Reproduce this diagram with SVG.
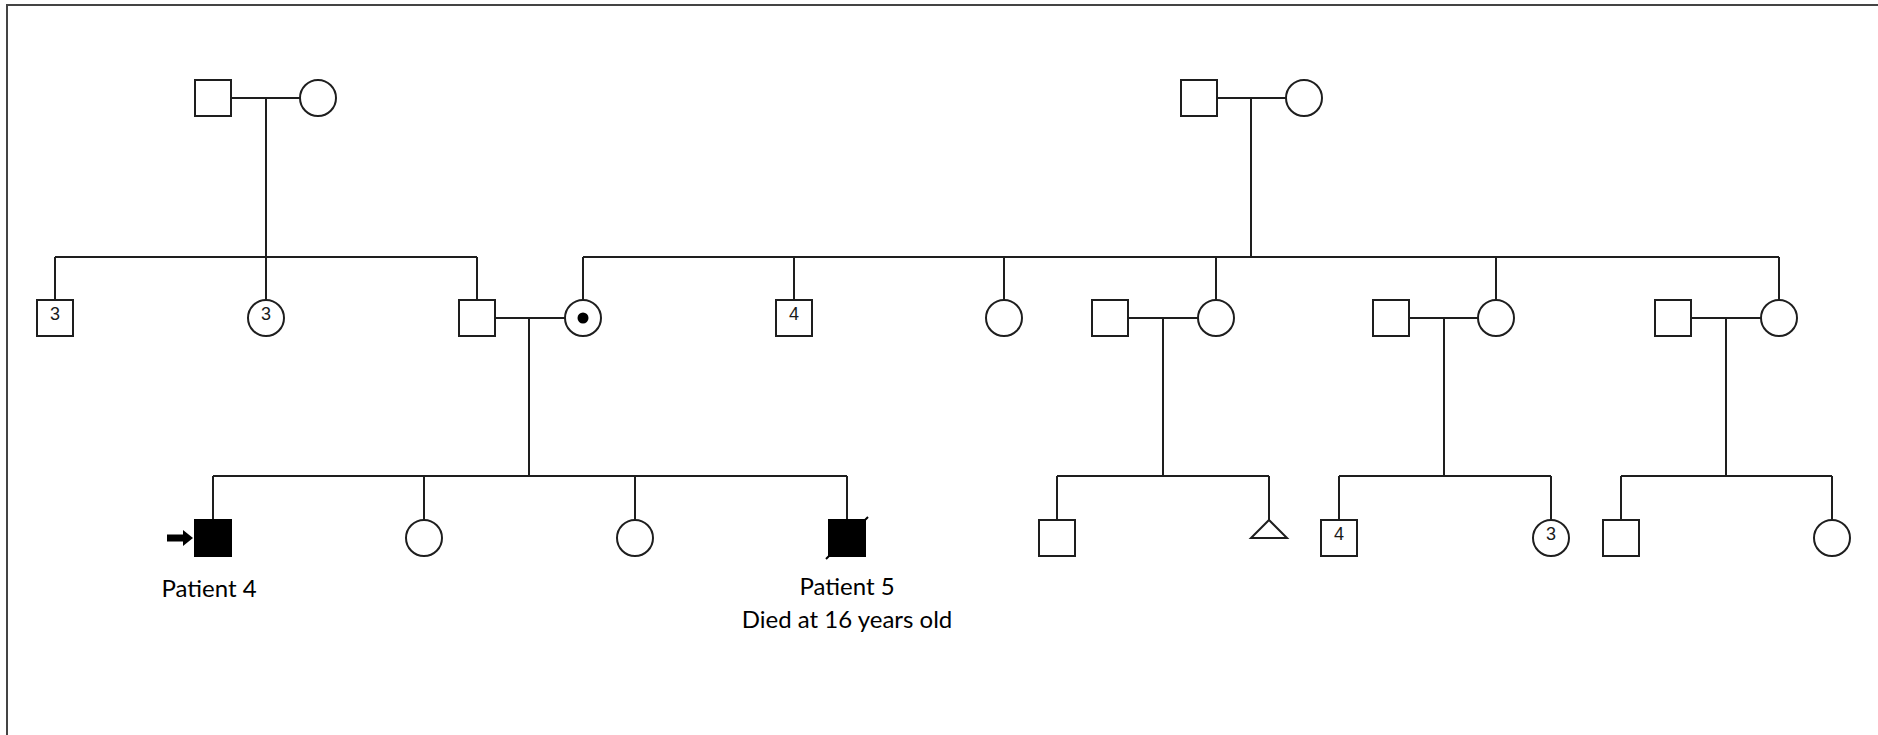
<svg xmlns="http://www.w3.org/2000/svg" width="1878" height="735" viewBox="0 0 1878 735">
  <style>
    .sym { fill: #fff; stroke: #1e1e1e; stroke-width: 2; }
    .aff { fill: #000; stroke: #000; stroke-width: 2; }
    .ln { fill: none; stroke: #1e1e1e; stroke-width: 2; }
    .num { font-family: "Liberation Sans", Arial, sans-serif; font-size: 18px; fill: #1a1a1a; text-anchor: middle; }
    .lbl { font-family: Lato, "Liberation Sans", sans-serif; font-size: 24px; fill: #000; text-anchor: middle; }
  </style>

  <!-- frame -->
  <path d="M7,735 V5 H1878" fill="none" stroke="#444" stroke-width="2"/>

  <!-- connectors: marriage, descent and sibship lines -->
  <g id="connectors" class="ln">
    <!-- generation I -->
    <path d="M231,98 H300 M266,98 V257 M55,257 H477 M55,257 V300 M266,257 V300 M477,257 V300"/>
    <path d="M1217,98 H1286 M1251,98 V257 M583,257 H1779 M583,257 V300 M794,257 V300 M1004,257 V300 M1216,257 V300 M1496,257 V300 M1779,257 V300"/>
    <!-- generation II couples -->
    <path d="M495,318 H565 M529,318 V476 M213,476 H847 M213,476 V520 M424,476 V520 M635,476 V520 M847,476 V520"/>
    <path d="M1128,318 H1198 M1163,318 V476 M1057,476 H1269 M1057,476 V520 M1269,476 V520"/>
    <path d="M1409,318 H1478 M1444,318 V476 M1339,476 H1551 M1339,476 V520 M1551,476 V520"/>
    <path d="M1691,318 H1761 M1726,318 V476 M1621,476 H1832 M1621,476 V520 M1832,476 V520"/>
  </g>

  <!-- generation I -->
  <g id="gp1-father"><rect class="sym" x="195" y="80" width="36" height="36"/></g>
  <g id="gp1-mother"><circle class="sym" cx="318" cy="98" r="18"/></g>
  <g id="gp2-father"><rect class="sym" x="1181" y="80" width="36" height="36"/></g>
  <g id="gp2-mother"><circle class="sym" cx="1304" cy="98" r="18"/></g>

  <!-- generation II -->
  <g id="brothers3"><rect class="sym" x="37" y="300" width="36" height="36"/><text class="num" x="55" y="320">3</text></g>
  <g id="sisters3"><circle class="sym" cx="266" cy="318" r="18"/><text class="num" x="266" y="320">3</text></g>
  <g id="father"><rect class="sym" x="459" y="300" width="36" height="36"/></g>
  <g id="mother-carrier"><circle class="sym" cx="583" cy="318" r="18"/><circle cx="583" cy="318" r="5.5" fill="#000"/></g>
  <g id="uncles4"><rect class="sym" x="776" y="300" width="36" height="36"/><text class="num" x="794" y="320">4</text></g>
  <g id="aunt1"><circle class="sym" cx="1004" cy="318" r="18"/></g>
  <g id="uncle-in-law1"><rect class="sym" x="1092" y="300" width="36" height="36"/></g>
  <g id="aunt2"><circle class="sym" cx="1216" cy="318" r="18"/></g>
  <g id="uncle-in-law2"><rect class="sym" x="1373" y="300" width="36" height="36"/></g>
  <g id="aunt3"><circle class="sym" cx="1496" cy="318" r="18"/></g>
  <g id="uncle-in-law3"><rect class="sym" x="1655" y="300" width="36" height="36"/></g>
  <g id="aunt4"><circle class="sym" cx="1779" cy="318" r="18"/></g>

  <!-- generation III -->
  <g id="patient4">
    <rect class="aff" x="195" y="520" width="36" height="36"/>
    <path d="M167,534.5 H183 V530 L193,538 L183,546 V541.5 H167 Z" fill="#000"/>
    <text class="lbl" x="209" y="597">Patient 4</text>
  </g>
  <g id="sister1"><circle class="sym" cx="424" cy="538" r="18"/></g>
  <g id="sister2"><circle class="sym" cx="635" cy="538" r="18"/></g>
  <g id="patient5">
    <rect class="aff" x="829" y="520" width="36" height="36"/>
    <path d="M826,559 L868,517" stroke="#000" stroke-width="2"/>
    <text class="lbl" x="847" y="595">Patient 5</text>
    <text class="lbl" x="847" y="628">Died at 16 years old</text>
  </g>
  <g id="cousin1"><rect class="sym" x="1039" y="520" width="36" height="36"/></g>
  <g id="cousin-miscarriage"><path class="sym" d="M1269,520 L1287,538 H1251 Z"/></g>
  <g id="cousins4"><rect class="sym" x="1321" y="520" width="36" height="36"/><text class="num" x="1339" y="540">4</text></g>
  <g id="cousins3"><circle class="sym" cx="1551" cy="538" r="18"/><text class="num" x="1551" y="540">3</text></g>
  <g id="cousin2"><rect class="sym" x="1603" y="520" width="36" height="36"/></g>
  <g id="cousin3"><circle class="sym" cx="1832" cy="538" r="18"/></g>
</svg>
